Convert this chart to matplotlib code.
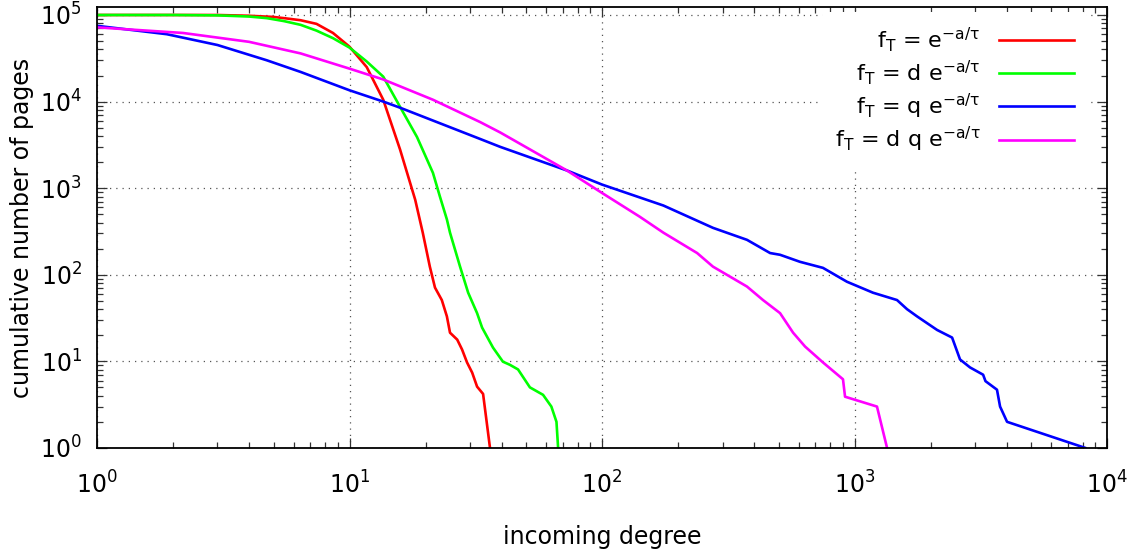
import matplotlib
matplotlib.use("Agg")

import matplotlib.pyplot as plt
from matplotlib.ticker import LogLocator, NullFormatter

plt.rcParams['font.family'] = ['DejaVu Sans']
plt.rcParams['mathtext.default'] = 'regular'

# cumulative in-degree distributions
red_x = [1, 2, 3, 4, 5, 5.5, 6.4, 7.4, 8.6, 10, 11.7, 13.6, 15.85, 18.2, 19.5, 20.8,
         21.8, 23.2, 24.3, 25, 26.7, 27.9, 29.2, 30.6, 32, 33.8, 36]
red_y = [1.0e5, 1.0e5, 1.0e5, 9.8e4, 9.5e4, 9.2e4, 8.7e4, 7.9e4, 6.2e4, 4.3e4, 2.5e4, 1.05e4,
         2.8e3, 735, 306, 124, 71, 51, 33, 21.4, 17.8, 13.7, 9.7, 7.4, 5.1, 4.2, 1]

green_x = [1, 2, 3, 4, 4.7, 5.5, 6.4, 7.4, 8.6, 10, 11.7, 13.6, 15.85, 18.5, 21.4, 22.8,
           24.3, 25, 27.4, 29.5, 32, 33.5, 37, 40.5, 43.2, 46.5, 51.8, 58.4, 63, 66, 67]
green_y = [1.0e5, 1.0e5, 9.9e4, 9.6e4, 9.2e4, 8.5e4, 7.7e4, 6.6e4, 5.4e4, 4.2e4, 2.9e4, 1.94e4,
           8.7e3, 3.9e3, 1.5e3, 800, 435, 306, 124, 62, 36, 24.5, 14.4, 9.9, 9.1, 8.05, 5.0,
           4.1, 3.0, 2.0, 1]

blue_x = [1, 1.89, 3.0, 4.7, 6.4, 10, 13.6, 15.85, 32.9, 39.5, 72.6, 100, 175, 275, 375, 463,
          507, 608, 750, 933, 1183, 1473, 1614, 1769, 2124, 2434, 2617, 2866, 3230, 3300, 3665,
          3770, 4018, 8190]
blue_y = [7.5e4, 6.0e4, 4.5e4, 3.0e4, 2.2e4, 1.35e4, 1.0e4, 8.5e3, 3.7e3, 3.0e3, 1.6e3, 1.1e3,
          630, 348, 253, 178, 170, 141, 120, 83, 62, 51, 40, 33, 23, 18.8, 10.5, 8.5, 7.0, 5.9,
          4.7, 3.0, 2.0, 1]

mag_x = [1, 2.19, 4.0, 6.4, 10, 13.6, 21.4, 32.9, 39.5, 72.6, 100, 141, 175, 238, 275, 375,
         434, 507, 571, 637, 750, 900, 917, 1227, 1345]
mag_y = [7.2e4, 6.2e4, 4.9e4, 3.6e4, 2.4e4, 1.8e4, 1.05e4, 5.8e3, 4.4e3, 1.6e3, 880, 468, 306,
         178, 124, 73, 51, 36, 21.4, 14.8, 9.7, 6.2, 3.9, 3.0, 1]

labels = ['f$_T$ = e$^{-a/τ}$',
          'f$_T$ = d e$^{-a/τ}$',
          'f$_T$ = q e$^{-a/τ}$',
          'f$_T$ = d q e$^{-a/τ}$']
colors = ['#ff0000', '#00ff00', '#0000ff', '#ff00ff']

fig = plt.figure(figsize=(11.4, 5.55), dpi=100)
ax = fig.add_axes([0.0851, 0.193, 0.886, 0.794])

series = [(red_x, red_y), (green_x, green_y), (blue_x, blue_y), (mag_x, mag_y)]
for (xs, ys), lab, c in zip(series, labels, colors):
    ax.plot(xs, ys, color=c, lw=1.9, label=lab)

ax.set_xscale('log')
ax.set_yscale('log')
ax.set_xlim(1, 1e4)
ax.set_ylim(1, 1.23e5)

for axis in (ax.xaxis, ax.yaxis):
    axis.set_major_locator(LogLocator(base=10, numticks=10))
    axis.set_minor_locator(LogLocator(base=10, subs=range(2, 10), numticks=20))
    axis.set_minor_formatter(NullFormatter())

ax.tick_params(which='both', direction='in', top=True, right=True, width=0.9, color='#333333')
ax.tick_params(which='major', length=7, labelsize=17)
ax.tick_params(axis='x', which='major', pad=17)
ax.tick_params(axis='y', which='major', pad=11)
ax.tick_params(which='minor', length=4)

ax.grid(True, which='major', linestyle=(0, (1, 4)), color='#555555', lw=0.9)
for s in ax.spines.values():
    s.set_linewidth(1.3)

ax.set_xlabel('incoming degree', fontsize=17)
ax.set_ylabel('cumulative number of pages', fontsize=17)
ax.xaxis.set_label_coords(0.5, -0.176)
ax.yaxis.set_label_coords(-0.0624, 0.5)

leg = ax.legend(loc='upper right', fontsize=16, frameon=True, markerfirst=False,
                handlelength=3.4, handletextpad=0.8, labelspacing=0.2,
                borderaxespad=0.2, borderpad=0.6, bbox_to_anchor=(0.985, 1.0))
leg.get_frame().set_edgecolor('none')
leg.get_frame().set_facecolor('white')
leg.get_frame().set_alpha(1)

fig.savefig('out.png', dpi=100)
